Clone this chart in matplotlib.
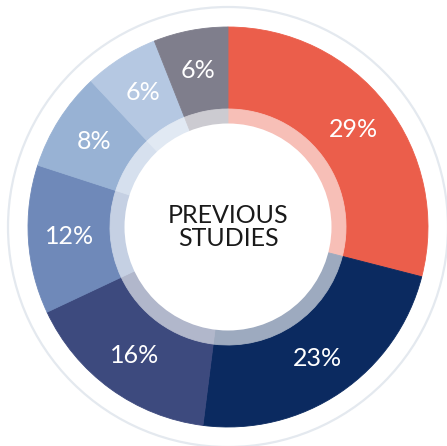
import matplotlib
matplotlib.use("Agg")
import matplotlib.pyplot as plt
from matplotlib.patches import Circle
from matplotlib.colors import to_rgb

values = [29, 23, 16, 12, 8, 6, 6]
labels = ["29%", "23%", "16%", "12%", "8%", "6%", "6%"]
colors = ["#EB5E4B", "#0B2A60", "#3D4A7E", "#6F89B9", "#98B2D4", "#B5C8E2", "#7F7E8C"]
center_title = "PREVIOUS\nSTUDIES"

W, H = 447, 446
fig = plt.figure(figsize=(W / 100, H / 100), dpi=100)
ax = fig.add_axes([0, 0, 1, 1])
ax.set_xlim(0, W)
ax.set_ylim(0, H)
ax.set_aspect("equal")
ax.axis("off")

cx, cy = 228, H - 227
R = 200

# outer thin ring
ax.add_patch(Circle((cx, cy), 220, facecolor="none", edgecolor="#E4E9EF", lw=1.6))

wedges, texts = ax.pie(values, colors=colors, startangle=90, counterclock=False,
                       radius=R, center=(cx, cy), labels=labels, labeldistance=0.795,
                       wedgeprops=dict(width=R - 118, linewidth=0.6, antialiased=True),
                       textprops=dict(color="white", fontsize=18, family="Lato",
                                      ha="center", va="center"))
for w, c in zip(wedges, colors):
    w.set_edgecolor(c)

# lighter inner band
def lighten(c, f=0.6):
    r, g, b = to_rgb(c)
    return (r + (1 - r) * f, g + (1 - g) * f, b + (1 - b) * f)

band_colors = [lighten(c) for c in colors]
bw, _ = ax.pie(values, colors=band_colors, startangle=90, counterclock=False,
               radius=118, center=(cx, cy),
               wedgeprops=dict(width=15, linewidth=0.6))
for w, c in zip(bw, band_colors):
    w.set_edgecolor(c)

ax.add_patch(Circle((cx, cy), 103.5, facecolor="white", edgecolor="none", zorder=5))
ax.text(cx, cy, center_title, ha="center", va="center", fontsize=18, family="Lato",
        color="#1A1A1A", linespacing=1.05, zorder=6)

ax.set_xlim(0, W)
ax.set_ylim(0, H)
fig.savefig("out.png", dpi=100)
